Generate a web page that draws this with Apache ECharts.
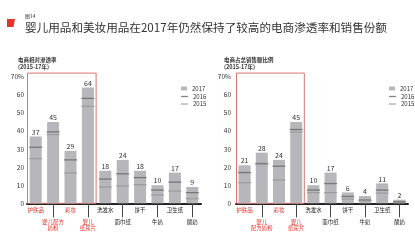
<!DOCTYPE html>
<html>
<head>
<meta charset="utf-8">
<script src="https://cdn.jsdelivr.net/npm/echarts@6/dist/echarts.min.js"></script>
<style>
	html,body{margin:0;padding:0;background:#fff;}
	#main{width:415px;height:240px;}
</style>
</head>
<body>
<div id="main"></div>
<script>
	// 电商相对渗透率
	var catsA = ['护肤品','婴儿配方\n奶粉','彩妆','婴儿\n纸尿片','洗发水','面巾纸','饼干','牛奶','卫生纸','酸奶'];
	var a2017 = [37,45,29,64,18,24,18,10,17,9];
	var a2016 = [31,39.5,24,58,13.4,16.3,14.2,7.3,11.7,5.9];
	var a2015 = [24.7,38,16.8,53.6,9,9.6,10.3,4.6,6.8,2.6];
	// 电商占总销售额比例
	var catsB = ['护肤品','婴儿\n配方奶粉','彩妆','婴儿\n纸尿片','洗发水','面巾纸','饼干','牛奶','卫生纸','酸奶'];
	var b2017 = [21,28,24,45,10,17,6,4,11,2];
	var b2016 = [17,22,20.5,40.8,7.3,10.9,3.8,1.8,7.3,0.8];
	var b2015 = [11.4,21.6,12.9,39.4,5.9,5.9,2.4,1.4,5.6,0.4];
	var yTicks = [0,10,20,30,40,50,60,70];

	var FONT = 'Noto Sans CJK SC';
	var RED = '#e0362c';

	function catLabel(v, i){
		var st = i < 4 ? 'r' : 'k';
		var lines = v.split('\n').map(function(s){ return '{' + st + '|' + s + '}'; });
		if (i % 2) return '{sp| }\n' + lines.join('\n');
		return lines.join('\n');
	}

	function xAxisOf(grid, cats){
		return {
			type: 'category', gridIndex: grid, data: cats,
			axisLine: {lineStyle: {color: '#222', width: 2}},
			axisTick: {show: true, alignWithLabel: true, length: 14,
				interval: function(i){ return i % 2 === 1; },
				lineStyle: {color: '#444', width: 1}},
			axisLabel: {
				interval: 0, margin: 4, formatter: catLabel,
				rich: {
					r: {color: RED, fontSize: 5.5, lineHeight: 6, fontFamily: FONT},
					k: {color: '#222', fontSize: 5.5, lineHeight: 6, fontFamily: FONT},
					sp: {fontSize: 5, lineHeight: 12, height: 12}
				}
			}
		};
	}
	function yAxisOf(grid, margin){
		return {
			type: 'value', gridIndex: grid, min: yTicks[0], max: yTicks[yTicks.length - 1], interval: 10,
			axisLine: {show: false}, axisTick: {show: false}, splitLine: {show: false},
			axisLabel: {margin: margin, fontSize: 6.5, color: '#333', fontFamily: FONT,
				formatter: function(v){ return v === 70 ? '70%' : v; }}
		};
	}
	function barOf(idx, data){
		return {
			name: '2017', type: 'bar', xAxisIndex: idx, yAxisIndex: idx, data: data,
			barWidth: 12, itemStyle: {color: '#b7b7bb'},
			label: {show: true, position: 'top', distance: 1, fontSize: 7, color: '#333', fontFamily: FONT}
		};
	}
	function tickOf(idx, name, data, color){
		return {
			name: name, type: 'scatter', xAxisIndex: idx, yAxisIndex: idx, data: data,
			symbol: 'rect', symbolSize: [13, 1.3], itemStyle: {color: color}, z: 5, silent: true
		};
	}

	var C16 = '#666666', C15 = '#969696';
	var legendText = {fontSize: 6, color: '#333', fontFamily: FONT};

	var myChart = echarts.init(document.getElementById('main'));
	var option = {
		animation: false,
		title: [
			{text: '图14', left: 20, top: 9, textStyle: {fontSize: 5, color: '#333', fontWeight: 'normal', fontFamily: FONT}},
			{text: '婴儿用品和美妆用品在2017年仍然保持了较高的电商渗透率和销售份额', left: 20, top: 17,
				textStyle: {fontSize: 11.6, color: '#333', fontWeight: 'normal', fontFamily: FONT}},
			{text: '电商相对渗透率\n(2015-17年)', left: 13, top: 51,
				textStyle: {fontSize: 5.5, lineHeight: 7, color: '#333', fontWeight: 'bold', fontFamily: FONT}},
			{text: '电商占总销售额比例\n(2015-17年)', left: 219, top: 51,
				textStyle: {fontSize: 5.5, lineHeight: 7, color: '#333', fontWeight: 'bold', fontFamily: FONT}}
		],
		legend: [
			{data: ['2017'], left: 176, top: 80.5, icon: 'rect', itemWidth: 6, itemHeight: 4, textStyle: legendText, itemGap: 2},
			{data: ['2016','2015'], orient: 'vertical', left: 176, top: 88.5, icon: 'rect', itemWidth: 7, itemHeight: 1.3, itemGap: 1.5, textStyle: legendText},
			{data: ['2017'], left: 384, top: 80.5, icon: 'rect', itemWidth: 6, itemHeight: 4, textStyle: legendText, itemGap: 2},
			{data: ['2016','2015'], orient: 'vertical', left: 384, top: 88.5, icon: 'rect', itemWidth: 7, itemHeight: 1.3, itemGap: 1.5, textStyle: legendText}
		],
		grid: [
			{left: 27, top: 76.7, width: 174, height: 126.6, containLabel: false, outerBoundsMode: 'none'},
			{left: 236, top: 76.7, width: 172, height: 126.6, containLabel: false, outerBoundsMode: 'none'}
		],
		xAxis: [xAxisOf(0, catsA), xAxisOf(1, catsB)],
		yAxis: [yAxisOf(0, 3), yAxisOf(1, 5)],
		series: [
			barOf(0, a2017), tickOf(0, '2016', a2016, C16), tickOf(0, '2015', a2015, C15),
			barOf(1, b2017), tickOf(1, '2016', b2016, C16), tickOf(1, '2015', b2015, C15)
		]
	};
	myChart.setOption(option);

	// 红框：前四个品类（从坐标轴换算位置）
	function redBox(g){
		var c0 = myChart.convertToPixel({gridIndex: g}, [0, 0]);
		var c1 = myChart.convertToPixel({gridIndex: g}, [1, 72]);
		var c3 = myChart.convertToPixel({gridIndex: g}, [3, 0]);
		var bw = c1[0] - c0[0];
		return {
			type: 'rect', z: 1,
			shape: {x: c0[0] - bw / 2 + 0.5, y: c1[1], width: c3[0] - c0[0] + bw - 1, height: c0[1] - c1[1]},
			style: {fill: 'none', stroke: '#d9756e', lineWidth: 1}
		};
	}
	myChart.setOption({
		graphic: [
			{type: 'polygon', shape: {points: [[7,19],[15,19],[13.5,27],[7,27]]}, style: {fill: RED}},
			redBox(0), redBox(1)
		]
	});
</script>
</body>
</html>
